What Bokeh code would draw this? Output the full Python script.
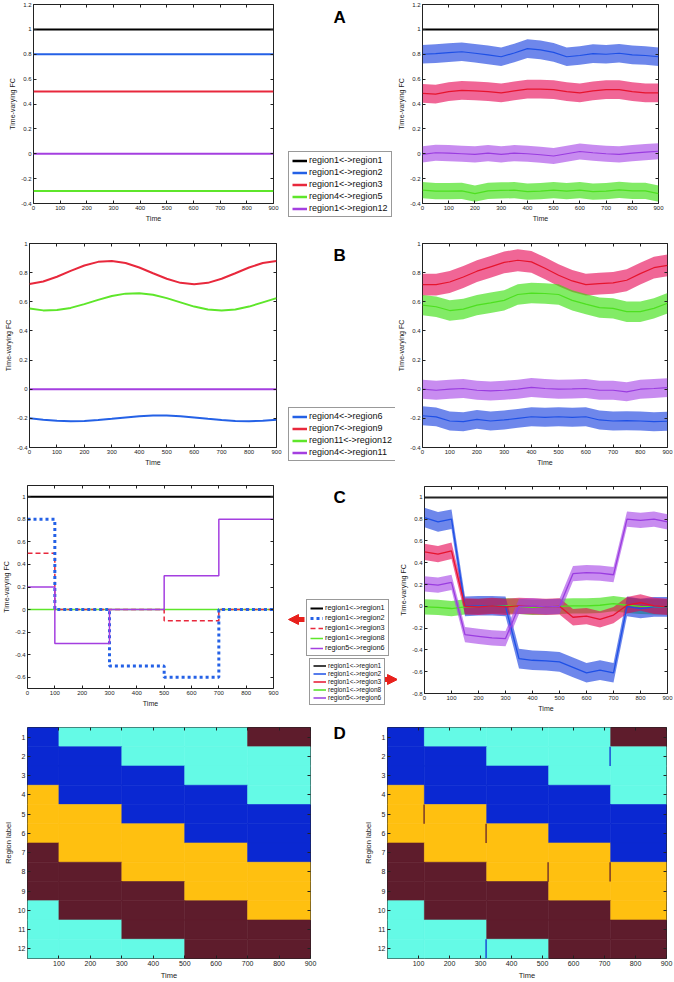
from bokeh.plotting import figure
from bokeh.layouts import column, row
from bokeh.models import (Range1d, FixedTicker, PrintfTickFormatter, Legend, LegendItem,
                          Label, Arrow, NormalHead, LinearAxis, CustomJSTickFormatter)
from bokeh.embed import file_html
from bokeh.resources import INLINE

FONT = "Liberation Sans"
NAN = float("nan")

# ------------------------------------------------------------------ data
time_ticks = [0, 100, 200, 300, 400, 500, 600, 700, 800, 900]
est_time = [0, 50, 100, 150, 200, 250, 300, 350, 400, 450, 500,
            550, 600, 650, 700, 750, 800, 850, 900]

# Panel A (true constant FC and estimates)
a_labels = ["region1<->region1", "region1<->region2", "region1<->region3",
            "region4<->region5", "region1<->region12"]
a_true = [1.0, 0.8, 0.5, -0.3, 0.0]
a_est_blue = [0.80, 0.805, 0.813, 0.82, 0.808, 0.795, 0.78, 0.81, 0.845, 0.835,
              0.815, 0.78, 0.79, 0.805, 0.80, 0.808, 0.795, 0.79, 0.78]
a_est_red = [0.485, 0.48, 0.50, 0.51, 0.505, 0.50, 0.49, 0.505, 0.52, 0.52,
             0.515, 0.50, 0.49, 0.505, 0.515, 0.515, 0.50, 0.49, 0.49]
a_est_green = [-0.293, -0.30, -0.30, -0.298, -0.32, -0.298, -0.295, -0.293, -0.305, -0.30,
               -0.293, -0.30, -0.293, -0.305, -0.30, -0.29, -0.298, -0.298, -0.32]
a_est_purple = [-0.005, 0.008, 0.005, 0.0, -0.005, 0.005, -0.005, 0.005, 0.0, -0.008,
                -0.018, 0.0, 0.018, 0.008, 0.0, -0.005, 0.005, 0.013, 0.02]
a_sd = [0.075, 0.075, 0.065, 0.065]  # blue, red, green, purple

# Panel B (sinusoidal true FC and estimates)
b_labels = ["region4<->region6", "region7<->region9", "region11<->region12", "region4<->region11"]
b_true_blue = [-0.1995, -0.209, -0.2165, -0.220, -0.218, -0.212, -0.2035, -0.194, -0.185, -0.181,
               -0.181, -0.185, -0.194, -0.2035, -0.212, -0.218, -0.220, -0.2165, -0.209]
b_true_red = [0.722, 0.739, 0.772, 0.812, 0.849, 0.874, 0.880, 0.866, 0.835, 0.796,
              0.758, 0.730, 0.720, 0.730, 0.758, 0.796, 0.835, 0.866, 0.880]
b_true_green = [0.554, 0.541, 0.543, 0.558, 0.584, 0.613, 0.640, 0.656, 0.659, 0.648,
                0.625, 0.596, 0.567, 0.547, 0.540, 0.547, 0.567, 0.596, 0.625]
b_true_purple = 0.0
b_est_blue = [-0.182, -0.19, -0.218, -0.223, -0.207, -0.218, -0.211, -0.20, -0.189, -0.193,
              -0.189, -0.193, -0.189, -0.211, -0.218, -0.216, -0.218, -0.223, -0.22]
b_est_red = [0.718, 0.718, 0.736, 0.77, 0.81, 0.84, 0.87, 0.885, 0.874, 0.83,
             0.782, 0.743, 0.718, 0.725, 0.73, 0.748, 0.793, 0.834, 0.85]
b_est_green = [0.577, 0.566, 0.54, 0.55, 0.577, 0.593, 0.61, 0.65, 0.66, 0.657,
               0.65, 0.61, 0.584, 0.56, 0.555, 0.532, 0.532, 0.555, 0.59]
b_est_purple = [0.0, -0.007, 0.0, 0.005, -0.007, -0.012, -0.007, 0.0, 0.012, 0.005,
                0.0, 0.002, 0.005, -0.007, -0.007, -0.018, 0.0, 0.005, 0.011]
b_sd = [0.065, 0.075, 0.07, 0.065]  # blue, red, green, purple

# Panel C (step-wise true FC and estimates)
c_labels = ["region1<->region1", "region1<->region2", "region1<->region3",
            "region1<->region8", "region5<->region6"]
c_edges = [0, 100, 300, 500, 700, 900]
c_true_black = [1.0, 1.0, 1.0, 1.0, 1.0]
c_true_blue = [0.8, 0.0, -0.5, -0.6, 0.0]
c_true_red = [0.5, 0.0, 0.0, -0.1, 0.0]
c_true_green = [0.0, 0.0, 0.0, 0.0, 0.0]
c_true_purple = [0.2, -0.3, 0.0, 0.3, 0.8]
c_est_blue = [0.815, 0.775, 0.80, 0.0, 0.005, 0.005, 0.0, -0.48, -0.495, -0.50,
              -0.51, -0.56, -0.61, -0.585, -0.61, 0.0, -0.02, -0.005, -0.005]
c_est_red = [0.50, 0.48, 0.51, 0.0, -0.005, 0.005, -0.005, 0.005, 0.0, -0.005,
             0.0, -0.10, -0.09, -0.12, -0.08, 0.01, 0.035, 0.005, -0.005]
c_est_green = [-0.005, -0.01, -0.02, -0.005, 0.0, 0.005, 0.005, 0.0, -0.01, -0.005,
               0.0, 0.005, 0.005, 0.01, 0.025, 0.01, 0.0, -0.005, -0.005]
c_est_purple = [0.207, 0.195, 0.22, -0.26, -0.275, -0.29, -0.296, 0.0, 0.005, -0.005,
                0.0, 0.30, 0.31, 0.305, 0.29, 0.80, 0.79, 0.80, 0.775]
c_sd = [0.09, 0.075, 0.07, 0.07]  # blue, red, green, purple

# Panel D (community labels; 1=blue, 2=yellow, 3=maroon, 4=cyan)
d_region_ticks = [1, 2, 3, 4, 5, 6, 7, 8, 9, 10, 11, 12]
d_time_ticks = [100, 200, 300, 400, 500, 600, 700, 800, 900]
d_true_edges = [0, 100, 300, 500, 700, 900]
d_est_edges = [0, 119, 320, 520, 720, 900]
d_states = [
    [1, 4, 4, 4, 3],
    [1, 1, 4, 4, 4],
    [1, 1, 1, 4, 4],
    [2, 1, 1, 1, 4],
    [2, 2, 1, 1, 1],
    [2, 2, 2, 1, 1],
    [3, 2, 2, 2, 1],
    [3, 3, 2, 2, 2],
    [3, 3, 3, 2, 2],
    [4, 3, 3, 3, 2],
    [4, 4, 3, 3, 3],
    [4, 4, 4, 3, 3],
]
d_glitch_region = [5, 6, 8, 8, 2, 12]
d_glitch_time = [118, 318, 518, 718, 718, 318]
d_glitch_state = [3, 3, 3, 3, 1, 1]

# ------------------------------------------------------------------ styles
BLACK = "#000000"
L_BLUE, L_RED, L_GREEN, L_PURPLE = "#2461e6", "#e8283c", "#5ee62a", "#a43fe0"
E_BLUE, E_RED, E_GREEN, E_PURPLE = "#1e50e6", "#e6142e", "#4ee020", "#9a3ce0"
F_BLUE, F_RED, F_GREEN, F_PURPLE = "#0d37de", "#e60050", "#2fde00", "#a33fe6"
ARROW_RED = "#e8201c"
STATE_COLORS = {1: "#0a28d2", 2: "#ffc010", 3: "#5e1c2c", 4: "#64fae6"}


def make_fig(width, height, left, right, top, bottom, xr, yr):
    p = figure(width=width, height=height, x_range=Range1d(*xr), y_range=Range1d(*yr),
               output_backend="svg", toolbar_location=None, title=None,
               min_border_left=left, min_border_right=right,
               min_border_top=top, min_border_bottom=bottom)
    p.frame_align = False
    p.background_fill_color = "white"
    p.border_fill_color = "white"
    p.outline_line_color = "#222222"
    p.outline_line_width = 1
    p.grid.visible = False
    return p


def make_mid(width, height):
    p = figure(width=width, height=height, x_range=Range1d(0, width), y_range=Range1d(0, height),
               output_backend="svg", toolbar_location=None, title=None,
               x_axis_type=None, y_axis_type=None, min_border=0)
    p.frame_align = False
    p.outline_line_color = None
    p.background_fill_color = "white"
    p.border_fill_color = "white"
    p.grid.visible = False
    return p


def box_ticks(p, xticks, yticks):
    # MATLAB-style tick marks on the top and right edges (no labels)
    for ticks, side in ((xticks, "above"), (yticks, "right")):
        ax = LinearAxis(ticker=FixedTicker(ticks=ticks),
                        formatter=CustomJSTickFormatter(code="return ''"))
        ax.axis_line_color = None
        ax.major_tick_in = 3
        ax.major_tick_out = 0
        ax.minor_tick_line_color = None
        ax.major_tick_line_color = "#222222"
        ax.major_label_standoff = 0
        ax.major_label_text_font_size = "1px"
        p.add_layout(ax, side)


def style_axes(p, xticks, yticks, xlabel, ylabel, tick_size="6px", lab_size="7px"):
    for ax in (p.xaxis[0], p.yaxis[0]):
        ax.axis_line_color = None
        ax.major_tick_in = 3
        ax.major_tick_out = 0
        ax.minor_tick_line_color = None
        ax.major_tick_line_color = "#222222"
        ax.major_label_text_font = FONT
        ax.major_label_text_font_size = tick_size
        ax.major_label_text_color = "#222222"
        ax.axis_label_text_font = FONT
        ax.axis_label_text_font_size = lab_size
        ax.axis_label_text_font_style = "normal"
        ax.axis_label_text_color = "#222222"
        ax.major_label_standoff = 2
        ax.axis_label_standoff = 2
    p.xaxis[0].ticker = FixedTicker(ticks=xticks)
    p.yaxis[0].ticker = FixedTicker(ticks=yticks)
    p.xaxis[0].formatter = PrintfTickFormatter(format="%g")
    p.yaxis[0].formatter = PrintfTickFormatter(format="%g")
    p.xaxis[0].axis_label = xlabel
    p.yaxis[0].axis_label = ylabel
    box_ticks(p, xticks, yticks)


def add_legend(mid, labels, colors, widths, dashes, loc, font_size, row_h, spacing, padding, glyph_w):
    # legend-only line renderers (a single NaN point draws nothing in the frame)
    rends = [mid.line(x=[NAN], y=[NAN], line_color=c, line_width=w, line_dash=d)
             for c, w, d in zip(colors, widths, dashes)]
    leg = Legend(items=[LegendItem(label=l, renderers=[r]) for l, r in zip(labels, rends)],
                 location=loc, orientation="vertical")
    leg.label_text_font = FONT
    leg.label_text_font_size = font_size
    leg.label_text_color = "#111111"
    leg.label_height = row_h
    leg.glyph_height = row_h
    leg.glyph_width = glyph_w
    leg.spacing = spacing
    leg.padding = padding
    leg.margin = 0
    leg.label_standoff = 2
    leg.border_line_color = "#333333"
    leg.border_line_width = 1
    leg.background_fill_color = "white"
    leg.background_fill_alpha = 1
    mid.add_layout(leg)


def panel_label(p, text, x, y):
    p.add_layout(Label(x=x, y=y, text=text, text_font=FONT, text_font_size="17px",
                       text_font_style="bold", text_color="black",
                       text_baseline="alphabetic", text_align="left"))


def red_arrow(p, x0, x1, y):
    p.add_layout(Arrow(x_start=x0, y_start=y, x_end=x1, y_end=y,
                       line_color=ARROW_RED, line_width=5,
                       end=NormalHead(size=10, fill_color=ARROW_RED, line_color=ARROW_RED)))


def band(p, t, mean, sd, fill):
    lo = [m - sd for m in mean]
    hi = [m + sd for m in mean]
    p.varea(x=t, y1=lo, y2=hi, fill_color=fill, fill_alpha=0.6)


def steps(edges, levels):
    xs, ys = [], []
    for i, lv in enumerate(levels):
        xs += [edges[i], edges[i + 1]]
        ys += [lv, lv]
    return xs, ys


ylab = "Time-varying FC"
yt_a = [-0.4, -0.2, 0, 0.2, 0.4, 0.6, 0.8, 1, 1.2]
yt_b = [-0.4, -0.2, 0, 0.2, 0.4, 0.6, 0.8, 1]
yt_cl = [-0.6, -0.4, -0.2, 0, 0.2, 0.4, 0.6, 0.8, 1]
yt_cr = [-0.8, -0.6, -0.4, -0.2, 0, 0.2, 0.4, 0.6, 0.8, 1]
solid5 = ["solid"] * 5

# ------------------------------------------------------------------ row A (height 230)
a1 = make_fig(283, 230, 33, 10, 4, 27, (0, 900), (-0.4, 1.2))
style_axes(a1, time_ticks, yt_a, "Time", ylab)
for lv, col in zip(a_true, [BLACK, L_BLUE, L_RED, L_GREEN, L_PURPLE]):
    a1.line(x=[0, 900], y=[lv, lv], line_color=col, line_width=2)

am = make_mid(112, 230)
add_legend(am, a_labels, [BLACK, L_BLUE, L_RED, L_GREEN, L_PURPLE], [2.5] * 5, solid5,
           (5, 13), "9px", 9, 2, 3, 15)
panel_label(am, "A", 50, 213)

a2 = make_fig(279, 230, 23, 16, 4, 27, (0, 900), (-0.4, 1.2))
style_axes(a2, time_ticks, yt_a, "Time", ylab)
for m, sd, f in zip([a_est_blue, a_est_red, a_est_green, a_est_purple], a_sd,
                    [F_BLUE, F_RED, F_GREEN, F_PURPLE]):
    band(a2, est_time, m, sd, f)
a2.line(x=[0, 900], y=[a_true[0], a_true[0]], line_color=BLACK, line_width=2)
for m, c in zip([a_est_blue, a_est_red, a_est_green, a_est_purple], [E_BLUE, E_RED, E_GREEN, E_PURPLE]):
    a2.line(x=est_time, y=m, line_color=c, line_width=1.2)

# ------------------------------------------------------------------ row B (height 238)
b1 = make_fig(286, 238, 29, 10, 13, 18, (0, 900), (-0.4, 1.0))
style_axes(b1, time_ticks, yt_b, "Time", ylab)
b1.line(x=est_time, y=b_true_blue, line_color=L_BLUE, line_width=2)
b1.line(x=est_time, y=b_true_red, line_color=L_RED, line_width=2)
b1.line(x=est_time, y=b_true_green, line_color=L_GREEN, line_width=2)
b1.line(x=[0, 900], y=[b_true_purple, b_true_purple], line_color=L_PURPLE, line_width=2)

bm = make_mid(109, 238)
add_legend(bm, b_labels, [L_BLUE, L_RED, L_GREEN, L_PURPLE], [2.5] * 4, ["solid"] * 4,
           (2, 7), "9px", 9, 2, 3, 15)
panel_label(bm, "B", 47, 213)

b2 = make_fig(279, 238, 23, 7, 13, 18, (0, 900), (-0.4, 1.0))
style_axes(b2, time_ticks, yt_b, "Time", ylab)
for m, sd, f in zip([b_est_blue, b_est_red, b_est_green, b_est_purple], b_sd,
                    [F_BLUE, F_RED, F_GREEN, F_PURPLE]):
    band(b2, est_time, m, sd, f)
for m, c in zip([b_est_blue, b_est_red, b_est_green, b_est_purple], [E_BLUE, E_RED, E_GREEN, E_PURPLE]):
    b2.line(x=est_time, y=m, line_color=c, line_width=1.2)

# ------------------------------------------------------------------ row C (height 248)
c1 = make_fig(283, 248, 27, 10, 17, 28, (0, 900), (-0.7, 1.1))
style_axes(c1, time_ticks, yt_cl, "Time", ylab)
xs, ys = steps(c_edges, c_true_black)
c1.line(x=xs, y=ys, line_color=BLACK, line_width=2)
xs, ys = steps(c_edges, c_true_green)
c1.line(x=xs, y=ys, line_color=L_GREEN, line_width=1.5)
xs, ys = steps(c_edges, c_true_red)
c1.line(x=xs, y=ys, line_color=L_RED, line_width=1.5, line_dash="5 3")
xs, ys = steps(c_edges, c_true_blue)
c1.line(x=xs, y=ys, line_color=L_BLUE, line_width=3, line_dash="3 3")
xs, ys = steps(c_edges, c_true_purple)
c1.line(x=xs, y=ys, line_color=L_PURPLE, line_width=1.5)

cm = make_mid(114, 248)
add_legend(cm, c_labels, [BLACK, L_BLUE, L_RED, L_GREEN, L_PURPLE], [2, 3, 1.5, 1.5, 1.5],
           ["solid", "3 3", "5 3", "solid", "solid"], (23, 60), "7.3px", 8, 1, 3, 13)
add_legend(cm, c_labels, [BLACK, E_BLUE, E_RED, E_GREEN, E_PURPLE], [1.5] * 5, solid5,
           (26, 11), "6.5px", 7, 1, 3, 13)
red_arrow(cm, 21, 5, 97)
red_arrow(cm, 99, 114, 37)
panel_label(cm, "C", 50, 219)

c2 = make_fig(277, 248, 22, 7, 18, 23, (0, 900), (-0.8, 1.1))
style_axes(c2, time_ticks, yt_cr, "Time", ylab)
for m, sd, f in zip([c_est_green, c_est_blue, c_est_red, c_est_purple],
                    [c_sd[2], c_sd[0], c_sd[1], c_sd[3]],
                    [F_GREEN, F_BLUE, F_RED, F_PURPLE]):
    band(c2, est_time, m, sd, f)
c2.line(x=[0, 900], y=[c_true_black[0], c_true_black[0]], line_color="#222222", line_width=2)
for m, c in zip([c_est_green, c_est_blue, c_est_red, c_est_purple], [E_GREEN, E_BLUE, E_RED, E_PURPLE]):
    c2.line(x=est_time, y=m, line_color=c, line_width=1.3)

# ------------------------------------------------------------------ row D (height 266)


def heat(p, edges):
    L, R, T, B, C = [], [], [], [], []
    for r, states in enumerate(d_states):
        reg = d_region_ticks[r]
        for s, st in enumerate(states):
            L.append(edges[s]); R.append(edges[s + 1])
            T.append(reg - 0.5); B.append(reg + 0.5)
            C.append(STATE_COLORS[st])
    p.quad(left=L, right=R, top=T, bottom=B, fill_color=C, line_color=C, line_width=0.6)


d1 = make_fig(320, 266, 26, 10, 11, 18, (0, 900), (12.5, 0.5))
style_axes(d1, d_time_ticks, d_region_ticks, "Time", "Region label", "7px", "7.5px")
heat(d1, d_true_edges)

dm = make_mid(40, 266)
panel_label(dm, "D", 13, 249)

d2 = make_fig(314, 266, 22, 8, 11, 18, (0, 900), (12.5, 0.5))
style_axes(d2, d_time_ticks, d_region_ticks, "Time", "Region label", "7px", "7.5px")
heat(d2, d_est_edges)
d2.quad(left=[t - 2 for t in d_glitch_time], right=[t + 2 for t in d_glitch_time],
        top=[g - 0.5 for g in d_glitch_region], bottom=[g + 0.5 for g in d_glitch_region],
        fill_color=[STATE_COLORS[s] for s in d_glitch_state], line_color=None)

layout = column(row(a1, am, a2), row(b1, bm, b2), row(c1, cm, c2), row(d1, dm, d2))

open("out.html", "w").write(file_html(layout, INLINE))
